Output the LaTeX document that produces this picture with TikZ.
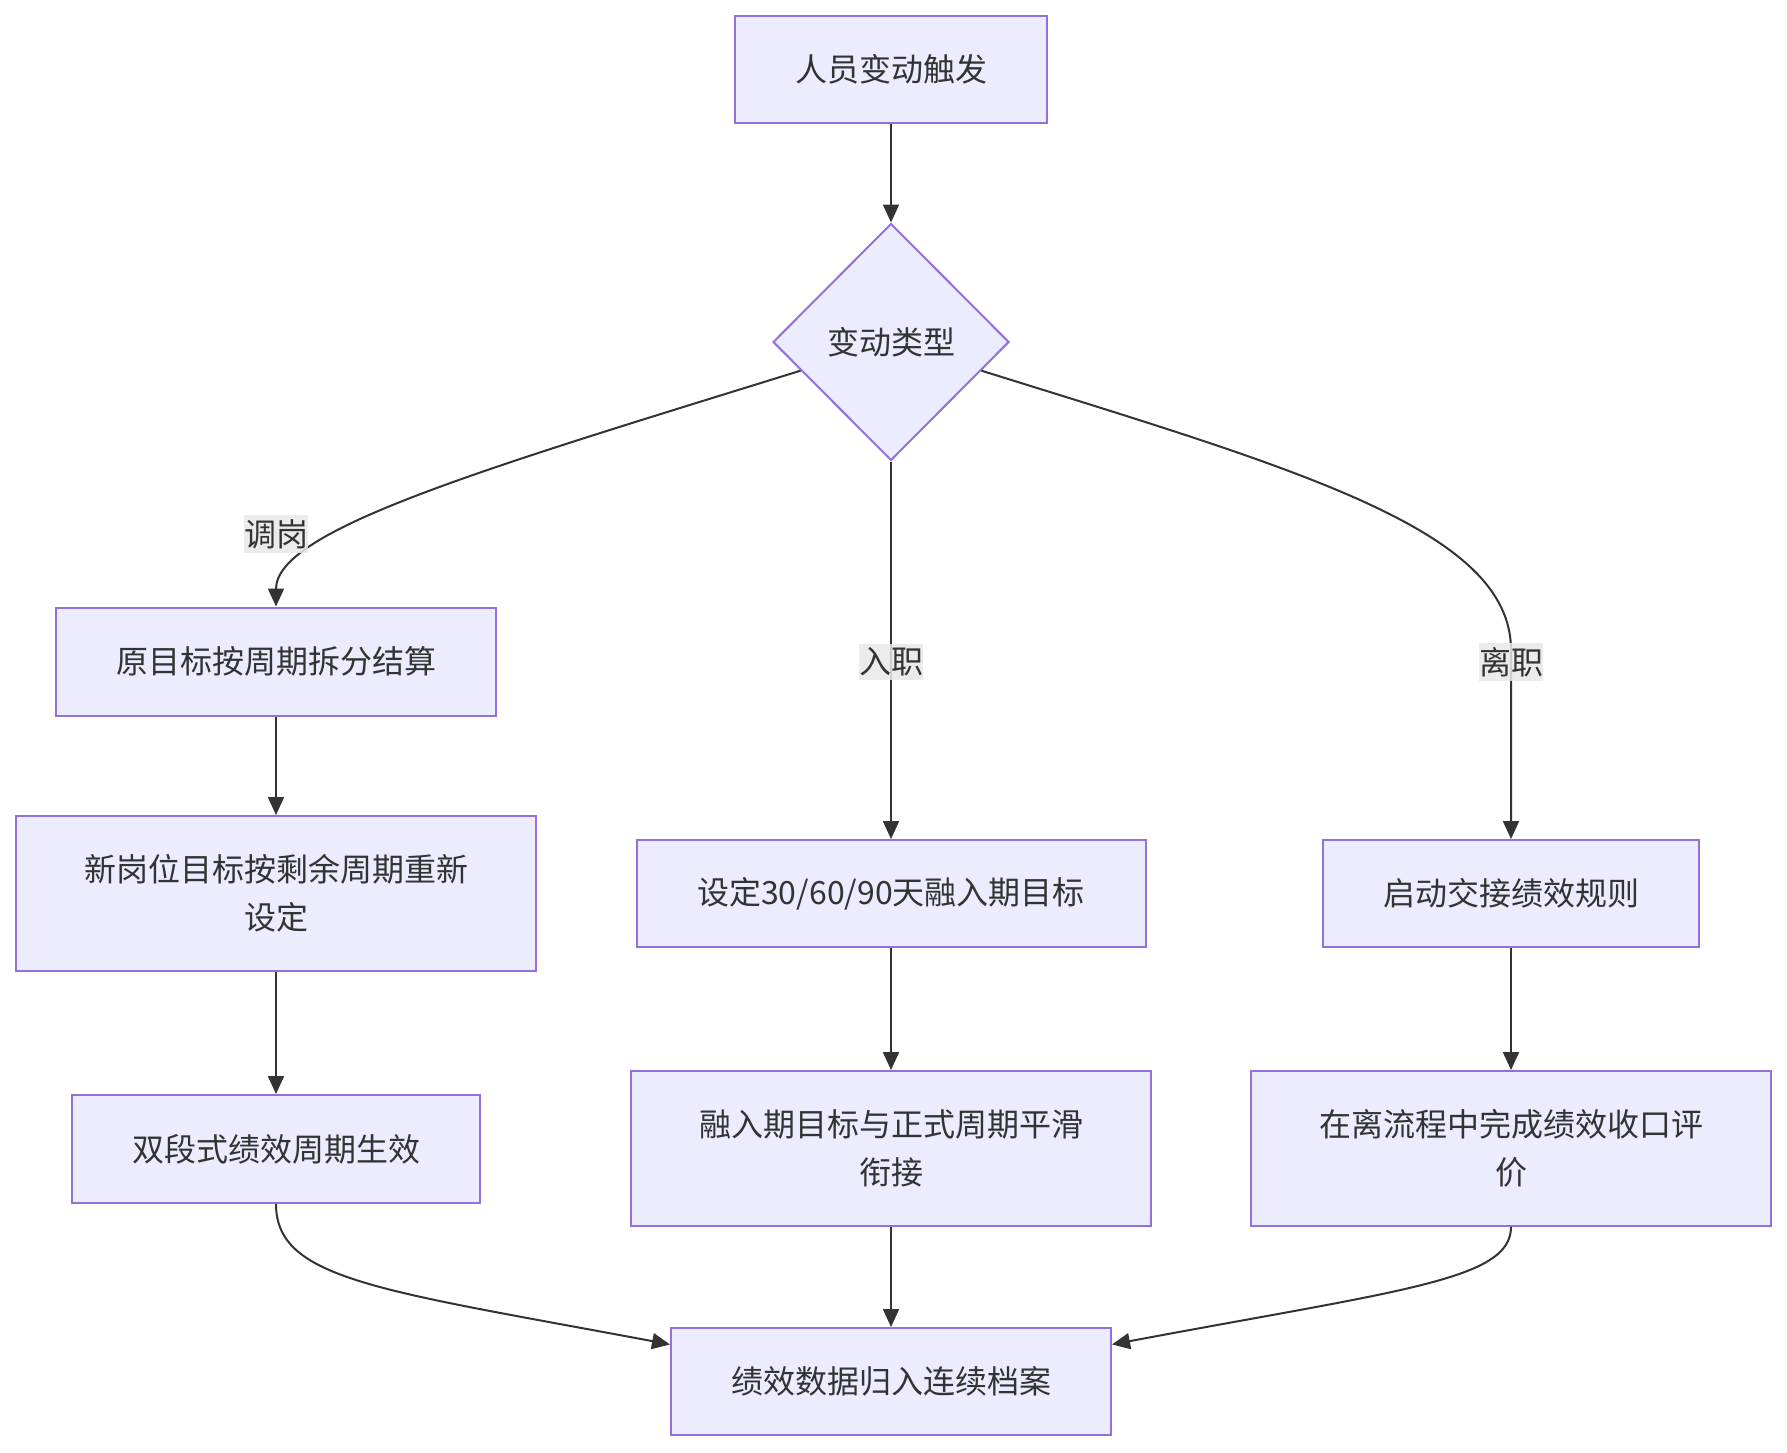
\documentclass[tikz,border=0pt]{standalone}
\usepackage{fontspec}
\setmainfont{Noto Sans CJK SC}
\usetikzlibrary{arrows.meta,shapes.geometric,calc}
\definecolor{boxfill}{HTML}{ECECFF}
\definecolor{boxline}{HTML}{9370DB}
\definecolor{lnc}{HTML}{333333}
\definecolor{txt}{HTML}{333333}
\definecolor{lblbg}{HTML}{E8E8E8}
\begin{document}
\begin{tikzpicture}[x=1pt,y=-1pt,
  box/.style={draw=boxline, fill=boxfill, line width=2pt, text=txt,
    font=\fontsize{32}{48}\selectfont, align=center, inner sep=0pt},
  dbox/.style={box, diamond, minimum width=236pt, minimum height=237pt},
  conn/.style={draw=lnc, line width=2pt, -{Triangle[length=18pt,width=16pt]}},
  elabel/.style={fill=lblbg, fill opacity=0.85, text opacity=1, text=txt,
    font=\fontsize{32}{38}\selectfont, inner xsep=0pt, inner ysep=4pt}]
\useasboundingbox (0,0) rectangle (1787,1452);
\fill[white] (0,0) rectangle (1787,1452);

\node[box, minimum width=312pt, minimum height=107pt] (n1) at (891,69.5) {人员变动触发};
\node[dbox] (d) at (891,342) {变动类型};
\node[box, minimum width=440pt, minimum height=108pt] (a1) at (276,661.5) {原目标按周期拆分结算};
\node[box, minimum width=520pt, minimum height=155pt] (a2) at (276,893.5) {新岗位目标按剩余周期重新\\设定};
\node[box, minimum width=408pt, minimum height=108pt] (a3) at (276,1149) {双段式绩效周期生效};
\node[box, minimum width=509pt, minimum height=107pt] (b1) at (891,893.5) {设定30/60/90天融入期目标};
\node[box, minimum width=520pt, minimum height=155pt] (b2) at (891,1148.5) {融入期目标与正式周期平滑\\衔接};
\node[box, minimum width=376pt, minimum height=107pt] (c1) at (1511,893.5) {启动交接绩效规则};
\node[box, minimum width=520pt, minimum height=155pt] (c2) at (1511,1148.5) {在离流程中完成绩效收口评\\价};
\node[box, minimum width=440pt, minimum height=107pt] (e) at (891,1381.5) {绩效数据归入连续档案};

\coordinate (dl) at ($(d.west)!0.24!(d.south)$);
\coordinate (dr) at ($(d.east)!0.24!(d.south)$);
\coordinate (ebl) at ($(e.north west)!0.16!(e.south west)$);
\coordinate (ebr) at ($(e.north east)!0.16!(e.south east)$);

\draw[conn] (n1) -- (d.north);
\draw[conn] (dl) .. controls (480,470) and (276,530) .. (a1.north);
\draw[conn] (d.south) -- (b1.north);
\draw[conn] (dr) .. controls (1300,470) and (1511,530) .. (1511,650) -- (c1.north);
\draw[conn] (a1) -- (a2);
\draw[conn] (a2) -- (a3);
\draw[conn] (b1) -- (b2);
\draw[conn] (c1) -- (c2);
\draw[conn] (a3.south) .. controls (276,1280) and (380,1290) .. (ebl);
\draw[conn] (b2) -- (e);
\draw[conn] (c2.south) .. controls (1511,1280) and (1402,1290) .. (ebr);

\node[elabel] (l1) at (276,534) {调岗};
\node[elabel] (l2) at (891,662) {入职};
\node[elabel] (l3) at (1511,662) {离职};
\end{tikzpicture}
\end{document}
